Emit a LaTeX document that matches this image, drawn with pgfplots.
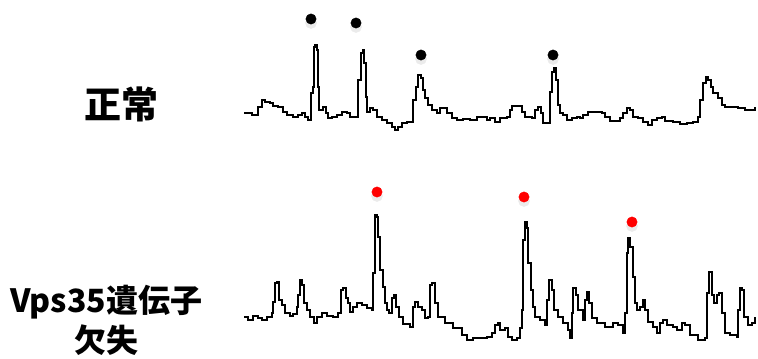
\documentclass[border=0pt]{standalone}
\usepackage{pgfplots}
\pgfplotsset{compat=1.18}
\usepackage{fontspec}
\newfontfamily\cjk{Noto Sans CJK JP}
\begin{document}
\begin{tikzpicture}
\begin{axis}[
  hide axis, scale only axis, width=758bp, height=354bp,
  xmin=0, xmax=758, ymin=0, ymax=354, y dir=reverse,
  clip=false, enlargelimits=false]
% Normal trace
\addplot[draw=black, line width=2.9bp, const plot, line join=miter, mark=none] coordinates {
(244,113) (252,115) (257,115) (258,107) (262,100) (265,102) (270,103) (273,106)
(278,107) (283,112) (287,115) (293,117) (298,115) (302,113) (305,117) (308,120)
(311,93) (313,87) (314,47) (315,45) (317,50) (318,87) (319,110) (323,107)
(326,113) (328,118) (332,117) (337,115) (342,112) (347,113) (350,117) (357,117)
(358,80) (361,53) (363,50) (364,63) (366,97) (367,112) (370,108) (373,110)
(377,117) (382,120) (387,123) (392,127) (395,130) (398,127) (402,123) (407,122)
(412,122) (413,100) (416,87) (418,75) (421,78) (423,90) (425,98) (428,105)
(432,110) (437,113) (440,108) (444,108) (447,113) (452,118) (457,120) (463,119)
(470,120) (477,117) (482,117) (487,120) (490,118) (495,122) (500,118) (507,117)
(510,110) (512,106) (518,106) (522,112) (525,117) (532,118) (535,110) (538,107)
(541,113) (543,123) (548,123) (550,92) (552,72) (554,68) (556,80) (558,105)
(560,113) (563,115) (567,120) (572,118) (577,117) (580,118) (583,115) (588,112)
(602,113) (605,117) (610,121) (620,118) (623,113) (627,108) (630,110) (633,117)
(638,118) (643,122) (648,125) (652,120) (657,118) (662,117) (665,121) (673,122)
(680,124) (687,123) (693,122) (698,117) (700,100) (703,83) (706,77) (708,80)
(711,87) (713,93) (718,98) (722,105) (725,107) (733,107) (738,108) (745,110)
(750,110) (755,107)
};
% Knockout trace
\addplot[draw=black, line width=2.9bp, const plot, line join=miter, mark=none] coordinates {
(244,317) (248,320) (253,316) (258,318) (262,320) (267,317) (272,313) (273,302)
(275,283) (277,282) (279,300) (282,305) (285,313) (290,316) (293,314) (297,307)
(298,295) (300,280) (302,285) (304,303) (307,310) (310,317) (314,323) (317,317)
(322,313) (327,316) (333,317) (338,313) (341,290) (343,288) (346,298) (348,303)
(350,312) (353,307) (357,303) (362,305) (367,308) (372,310) (373,273) (375,215)
(377,217) (378,237) (380,270) (383,287) (385,303) (387,310) (389,313) (392,298)
(394,295) (396,307) (399,317) (403,324) (410,327) (413,307) (415,302) (418,307)
(422,310) (425,318) (428,317) (430,285) (432,283) (435,303) (438,317) (445,323)
(453,328) (462,335) (467,340) (473,338) (480,338) (487,337) (492,333) (495,325)
(498,323) (500,330) (505,328) (508,337) (512,340) (517,338) (520,328) (522,310)
(523,240) (525,222) (527,228) (528,263) (531,290) (533,307) (535,317) (540,320)
(545,325) (547,300) (549,280) (552,290) (554,310) (558,317) (563,323) (568,330)
(570,338) (572,313) (573,288) (576,295) (578,310) (583,320) (585,300) (587,292)
(589,303) (592,318) (597,323) (605,327) (610,327) (613,323) (618,325) (623,333)
(625,313) (627,253) (628,238) (630,247) (633,277) (635,303) (637,310) (640,307)
(643,300) (645,310) (648,322) (653,327) (657,333) (660,323) (663,320) (667,325)
(673,327) (677,330) (682,323) (685,325) (690,335) (698,340) (705,338) (707,293)
(709,272) (712,295) (714,303) (717,295) (719,293) (722,313) (725,333) (730,335)
(737,337) (738,310) (740,288) (742,290) (744,317) (748,325) (752,323) (755,317)
};
% Soft shadow of dots
\addplot[black!8, only marks, mark=*, mark size=5.6bp, mark options={draw=black!8, fill=black!8}] coordinates {
(311,23) (356,27) (421,59) (553,59) (377,196) (524,201) (632,226)
};
% Dots
\addplot[black, only marks, mark=*, mark size=5.2bp, mark options={draw=black, fill=black}] coordinates {
(311,19) (356,23) (421,55) (553,55)
};
\addplot[red, only marks, mark=*, mark size=5.2bp, mark options={draw=red, fill=red}] coordinates {
(377,192) (524,197) (632,222)
};
\node[font=\cjk\bfseries\fontsize{37bp}{40bp}\selectfont] at (axis cs:121,104) {正常};
\node[font=\cjk\bfseries\fontsize{32bp}{36bp}\selectfont] at (axis cs:106,302) {Vps35遺伝子};
\node[font=\cjk\bfseries\fontsize{32bp}{36bp}\selectfont] at (axis cs:106,340) {欠失};
\end{axis}
\path[use as bounding box] (0,0) rectangle (758bp,354bp);
\end{tikzpicture}
\end{document}
